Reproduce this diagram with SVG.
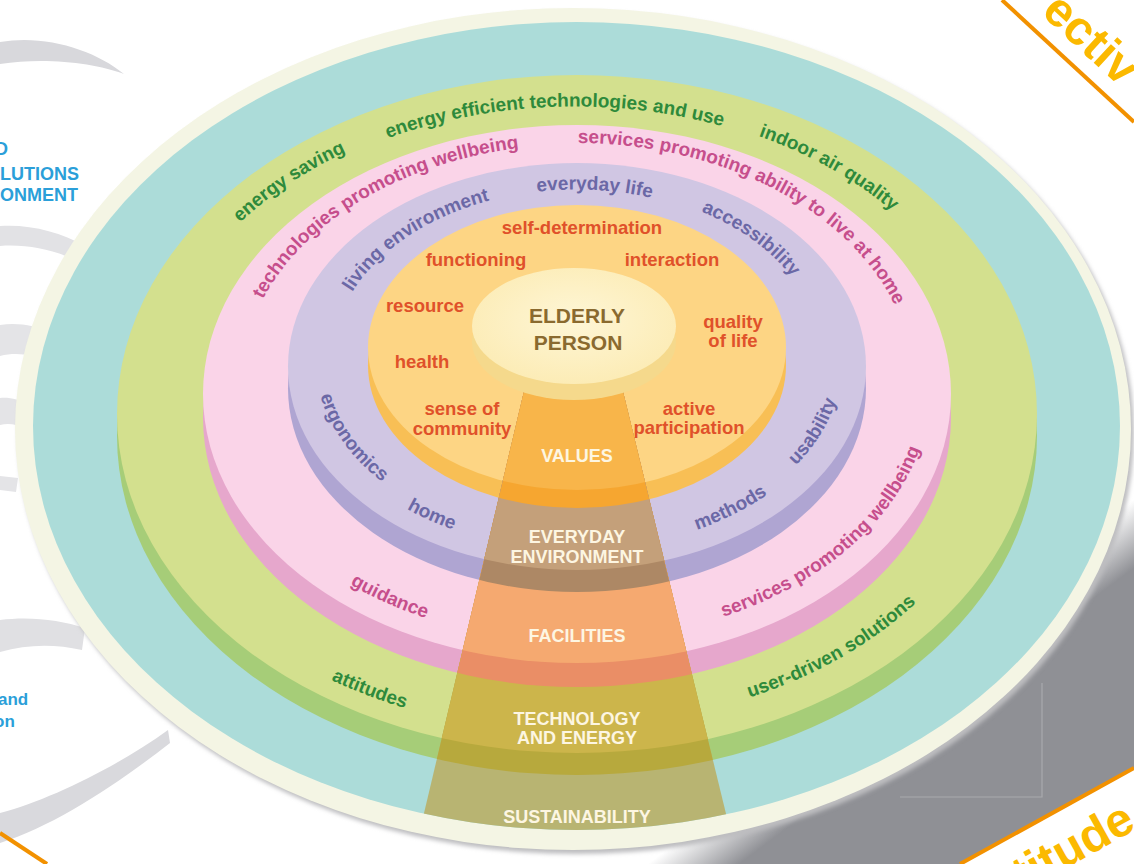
<svg xmlns="http://www.w3.org/2000/svg" width="1134" height="864" viewBox="0 0 1134 864">
<defs>
<style>
.t{font-family:"Liberation Sans",Arial,sans-serif;font-weight:bold}
.g{fill:#2e8a3b;font-size:19px}
.p{fill:#c64e8c;font-size:19px}
.v{fill:#6b68a6;font-size:19px}
.o{fill:#e0512a;font-size:18.5px;text-anchor:middle}
.w{fill:#fdf6e2;font-size:18px;text-anchor:middle}
.c{fill:#8a6a2f;font-size:21px;text-anchor:middle}
.b{fill:#2b9fd9;font-size:18px}
.y{fill:#fbb900;font-size:48px}
.m{text-anchor:middle}
</style>
<linearGradient id="sg" gradientUnits="userSpaceOnUse" x1="649" y1="863" x2="682" y2="907">
<stop offset="0" stop-color="#8f9095" stop-opacity="0"/>
<stop offset="1" stop-color="#8f9095" stop-opacity="1"/>
</linearGradient>
<radialGradient id="cg" cx="0.5" cy="0.45" r="0.55">
<stop offset="0" stop-color="#fef6d6"/>
<stop offset="1" stop-color="#fcecb6"/>
</radialGradient>
<filter id="bl" x="-5%" y="-5%" width="110%" height="110%"><feGaussianBlur stdDeviation="2"/></filter>
<clipPath id="trap"><polygon points="538.6,330 607.9,330 737.3,860 412.9,860"/></clipPath>
<path id="p1" d="M200.3,267.5 A422.1,306.5 0 0 1 413.8,126.4"/>
<path id="p2" d="M347.0,155.2 A417.9,303.5 0 0 1 764.4,139.8"/>
<path id="p3" d="M700.3,119.1 A420,305 0 0 1 928.2,246.1"/>
<path id="p4" d="M272.9,646.9 A443.9,322.4 0 0 0 476.4,724.5"/>
<path id="p5" d="M690.4,712.9 A433,314.5 0 0 0 947.5,569.1"/>
<path id="p6" d="M262.8,299.2 A335.3,240.4 0 0 1 605.2,145.5"/>
<path id="p7" d="M577.8,143 A337.6,242 0 0 1 908.5,343"/>
<path id="p8" d="M314.8,560.8 A358.3,256.8 0 0 0 472.5,630.8"/>
<path id="p9" d="M723.3,616.8 A355.2,254.7 0 0 0 929.9,407.2"/>
<path id="p10" d="M352.3,292.1 A243.8,170.6 0 0 1 554.7,190"/>
<path id="p11" d="M510.9,195.7 A243.6,170.5 0 0 1 677,204.8"/>
<path id="p12" d="M680.9,204 A246.3,172.4 0 0 1 799.6,287.7"/>
<path id="p13" d="M315.5,367 A260.7,182.5 0 0 0 416.2,504.2"/>
<path id="p14" d="M384.9,495.2 A271.7,190.2 0 0 0 480,537.9"/>
<path id="p15" d="M670.9,537.7 A271.1,189.7 0 0 0 785.2,480.7"/>
<path id="p16" d="M768.4,489.1 A266.6,186.6 0 0 0 842,372.4"/>
</defs>

<rect width="1134" height="864" fill="#ffffff"/>

<g id="background-swirls">
<path d="M0,42 C45,34 95,50 124,74 C95,63 45,57 0,64 Z" fill="#d8d8dc"/>
<path d="M0,226 C30,224 60,232 85,246 L80,262 C55,250 28,244 0,246 Z" fill="#e2e2e5"/>
<path d="M0,325 C18,322 36,326 50,332 L48,362 C32,354 16,352 0,356 Z" fill="#e4e4e7"/>
<path d="M0,398 C10,397 20,400 26,404 L24,428 C16,424 8,423 0,425 Z" fill="#e4e4e7"/>
<path d="M0,476 L18,478 L16,492 L0,490 Z" fill="#e4e4e7"/>
<path d="M0,620 C30,616 60,620 85,628 L82,650 C55,644 28,644 0,652 Z" fill="#e0e0e3"/>
<path d="M0,813 C50,800 120,765 168,730 L170,743 C120,782 55,826 0,843 Z" fill="#d9d9dd"/>
</g>

<g id="side-text">
<text class="t b" x="-5" y="155">D</text>
<text class="t b" x="0" y="180">LUTIONS</text>
<text class="t b" x="0" y="201">ONMENT</text>
<text class="t b" x="-2" y="705" style="font-size:17px">and</text>
<text class="t b" x="-6" y="727" style="font-size:17px">on</text>
</g>

<g id="shadow">
<rect x="560" y="380" width="574" height="484" fill="url(#sg)"/>
<path d="M900,797 H1042 V683" fill="none" stroke="#a9aaae" stroke-width="1.2"/>
</g>

<g id="ring-sustainability">
<ellipse cx="576" cy="433" rx="558" ry="421" fill="#bdbdc0" filter="url(#bl)"/>
<ellipse cx="573" cy="429" rx="558" ry="421" fill="#f4f5e4"/>
<ellipse cx="576.5" cy="426" rx="543.5" ry="404" fill="#acdcd9"/>
</g>
<g id="ring-technology-energy">
<ellipse cx="577" cy="436" rx="460" ry="339" fill="#a6cd78"/>
<ellipse cx="577" cy="414" rx="460" ry="339" fill="#d3e08e"/>
</g>
<g id="ring-facilities">
<ellipse cx="577" cy="418" rx="374" ry="269" fill="#e6a7cc"/>
<ellipse cx="577" cy="394" rx="374" ry="269" fill="#fad4e8"/>
</g>
<g id="ring-everyday-environment">
<ellipse cx="577" cy="388.5" rx="289" ry="203.5" fill="#afa5d2"/>
<ellipse cx="577" cy="366.5" rx="289" ry="203.5" fill="#d0c6e3"/>
</g>
<g id="ring-values">
<ellipse cx="577" cy="365.5" rx="209" ry="142.5" fill="#f8bf55"/>
<ellipse cx="577" cy="347.5" rx="209" ry="142.5" fill="#fdd584"/>
</g>

<g id="wedge" clip-path="url(#trap)">
<ellipse cx="576.5" cy="426" rx="543.5" ry="404" fill="#b8b472"/>
<ellipse cx="577" cy="436" rx="460" ry="339" fill="#b7a93d"/>
<ellipse cx="577" cy="414" rx="460" ry="339" fill="#ccb54b"/>
<ellipse cx="577" cy="418" rx="374" ry="269" fill="#ea8e66"/>
<ellipse cx="577" cy="394" rx="374" ry="269" fill="#f5a970"/>
<ellipse cx="577" cy="388.5" rx="289" ry="203.5" fill="#ad8865"/>
<ellipse cx="577" cy="366.5" rx="289" ry="203.5" fill="#c4a07a"/>
<ellipse cx="577" cy="365.5" rx="209" ry="142.5" fill="#f6a630"/>
<ellipse cx="577" cy="347.5" rx="209" ry="142.5" fill="#f8b54a"/>
</g>

<g id="elderly-person">
<ellipse cx="574" cy="342" rx="102" ry="58" fill="#f5d98c"/>
<ellipse cx="574" cy="326" rx="102" ry="58" fill="url(#cg)"/>
<text class="t c" x="577" y="323">ELDERLY</text>
<text class="t c" x="578" y="350">PERSON</text>
</g>

<g id="wedge-labels">
<text class="t w" x="577" y="462">VALUES</text>
<text class="t w" x="577" y="543">EVERYDAY</text>
<text class="t w" x="577" y="563">ENVIRONMENT</text>
<text class="t w" x="577" y="642">FACILITIES</text>
<text class="t w" x="577" y="725">TECHNOLOGY</text>
<text class="t w" x="577" y="744">AND ENERGY</text>
<text class="t w" x="577" y="823">SUSTAINABILITY</text>
</g>

<g id="labels-technology-energy">
<text class="t g m"><textPath href="#p1" startOffset="47.6%">energy saving</textPath></text>
<text class="t g m"><textPath href="#p2" startOffset="50%">energy efficient technologies and use</textPath></text>
<text class="t g m"><textPath href="#p3" startOffset="52%">indoor air quality</textPath></text>
<text class="t g m"><textPath href="#p4" startOffset="48.6%">attitudes</textPath></text>
<text class="t g m"><textPath href="#p5" startOffset="52.5%">user-driven solutions</textPath></text>
</g>
<g id="labels-facilities">
<text class="t p"><textPath href="#p6">technologies promoting wellbeing</textPath></text>
<text class="t p"><textPath href="#p7">services promoting ability to live at home</textPath></text>
<text class="t p m"><textPath href="#p8" startOffset="48.4%">guidance</textPath></text>
<text class="t p"><textPath href="#p9">services promoting wellbeing</textPath></text>
</g>
<g id="labels-everyday-environment">
<text class="t v"><textPath href="#p10">living environment</textPath></text>
<text class="t v m"><textPath href="#p11" startOffset="50%">everyday life</textPath></text>
<text class="t v m"><textPath href="#p12" startOffset="52.8%">accessibility</textPath></text>
<text class="t v m"><textPath href="#p13" startOffset="46.8%">ergonomics</textPath></text>
<text class="t v m"><textPath href="#p14" startOffset="49%">home</textPath></text>
<text class="t v m"><textPath href="#p15" startOffset="51.9%">methods</textPath></text>
<text class="t v m"><textPath href="#p16" startOffset="52.6%">usability</textPath></text>
</g>
<g id="labels-values">
<text class="t o" x="582" y="234">self-determination</text>
<text class="t o" x="476" y="266">functioning</text>
<text class="t o" x="672" y="266">interaction</text>
<text class="t o" x="425" y="312">resource</text>
<text class="t o" x="733" y="328">quality</text>
<text class="t o" x="733" y="347">of life</text>
<text class="t o" x="422" y="368">health</text>
<text class="t o" x="462" y="415">sense of</text>
<text class="t o" x="462" y="435">community</text>
<text class="t o" x="689" y="415">active</text>
<text class="t o" x="689" y="434">participation</text>
</g>

<g id="corner-banners">
<polygon points="960,864 1134,768 1134,864" fill="#ffffff"/>
<line x1="1002" y1="0" x2="1134" y2="122" stroke="#f29100" stroke-width="4"/>
<line x1="960" y1="864" x2="1134" y2="768" stroke="#f29100" stroke-width="4"/>
<line x1="0" y1="833" x2="47" y2="864" stroke="#f29100" stroke-width="4"/>
<text class="t y" transform="translate(1040.2,13.5) rotate(42.7)">ectiv</text>
<text class="t y" transform="translate(1023.3,891.8) rotate(-28.9)">titude</text>
</g>
</svg>
